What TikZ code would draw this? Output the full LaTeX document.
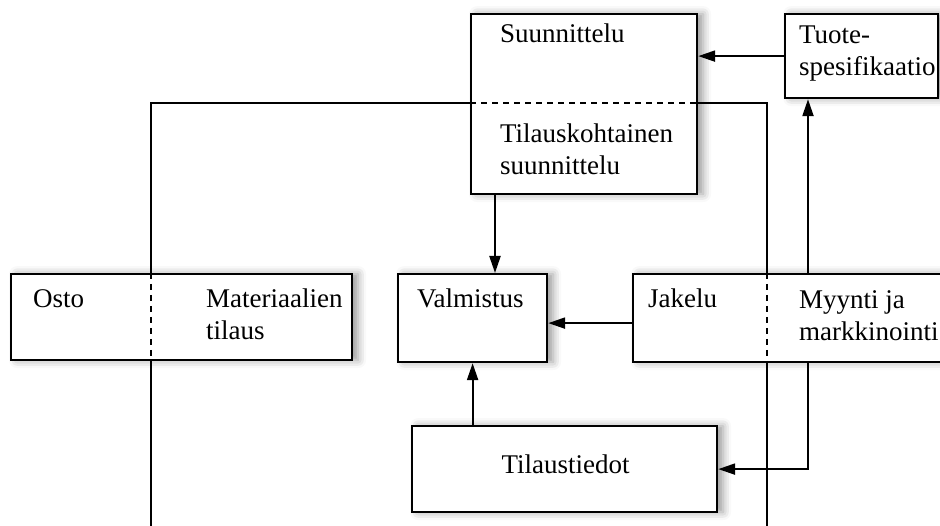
\documentclass[tikz,border=0pt]{standalone}
\usepackage{fontspec}
\setmainfont{Liberation Serif}
\usetikzlibrary{positioning, arrows.meta, shadows, shadows.blur, calc}

\begin{document}
\begin{tikzpicture}[x=1pt, y=-1pt, line width=2.2pt,
    box/.style={draw, fill=white, anchor=north west, inner sep=0pt,
      blur shadow={shadow xshift=6pt, shadow yshift=0pt, shadow blur radius=8pt, shadow opacity=40}},
    lbl/.style={anchor=base west, inner sep=0pt, align=left, font=\fontsize{27}{32.5}\selectfont},
    divider/.style={dash pattern=on 6pt off 5pt},
    arr/.style={-{Triangle[length=17pt, width=11pt]}}]
  \useasboundingbox (0,0) rectangle (940,526);

  % corners of the surrounding frame
  \coordinate (ftl) at (151,103);
  \coordinate (ftr) at (767,103);
  \coordinate (fbl) at (151,540);
  \coordinate (fbr) at (767,540);
  \draw (fbl) -- (ftl) -- (ftr) -- (fbr);

  % boxes
  \node[box, minimum width=226pt, minimum height=180pt] (suun) at (470,13) {};
  \node[box, minimum width=153pt, minimum height=84pt] (tuote) at (784,13) {};
  \node[box, minimum width=341pt, minimum height=86pt] (osto) at (10,273) {};
  \node[box, minimum width=149pt, minimum height=88pt] (valm) at (397,273) {};
  \node[box, minimum width=320pt, minimum height=88pt] (jakelu) at (632,273) {};
  \node[box, minimum width=305pt, minimum height=86pt] (tilt) at (411,425) {};

  % frame continues through the boxes as dashed lines
  \draw[divider] (suun.west |- ftl) -- (suun.east |- ftl);
  \draw[divider] (osto.north -| ftl) -- (osto.south -| ftl);
  \draw[divider] (jakelu.north -| ftr) -- (jakelu.south -| ftr);

  % texts (two-line labels sit on their last baseline)
  \node[lbl] (suunA) at ($(suun.north west)+(29,30)$) {Suunnittelu};
  \node[lbl] (suunB) at ($(suun.north west)+(29,162)$) {Tilauskohtainen\\suunnittelu};
  \node[lbl] (tuoteT) at ($(tuote.north west)+(14,63)$) {Tuote-\\spesifikaatio};
  \node[lbl] (ostoA) at ($(osto.north west)+(22,35)$) {Osto};
  \node[lbl] (ostoB) at ($(osto.north west)+(195,67)$) {Materiaalien\\tilaus};
  \node[lbl] (valmT) at ($(valm.north west)+(19,35)$) {Valmistus};
  \node[lbl] (jakA) at ($(jakelu.north west)+(15,35)$) {Jakelu};
  \node[lbl] (jakB) at ($(jakelu.north west)+(166,68)$) {Myynti ja\\markkinointi};
  \node[lbl, anchor=base] (tiltT) at ($(tilt.north)+(1,48)$) {Tilaustiedot};

  % connectors
  \coordinate (myx) at (808,0);
  \draw[arr] (tuote.west) -- (suun.east |- tuote.west);
  \draw[arr] ([xshift=25pt]suun.south west) -- ([xshift=25pt]suun.south west |- valm.north);
  \draw[arr] ([yshift=-5pt]jakelu.west) -- ([yshift=-5pt]valm.east);
  \draw[arr] (valm.south |- tilt.north) -- (valm.south);
  \draw[arr] (jakelu.north -| myx) -- (tuote.south -| myx);
  \draw[arr] (jakelu.south -| myx) |- (tilt.east);
\end{tikzpicture}
\end{document}
